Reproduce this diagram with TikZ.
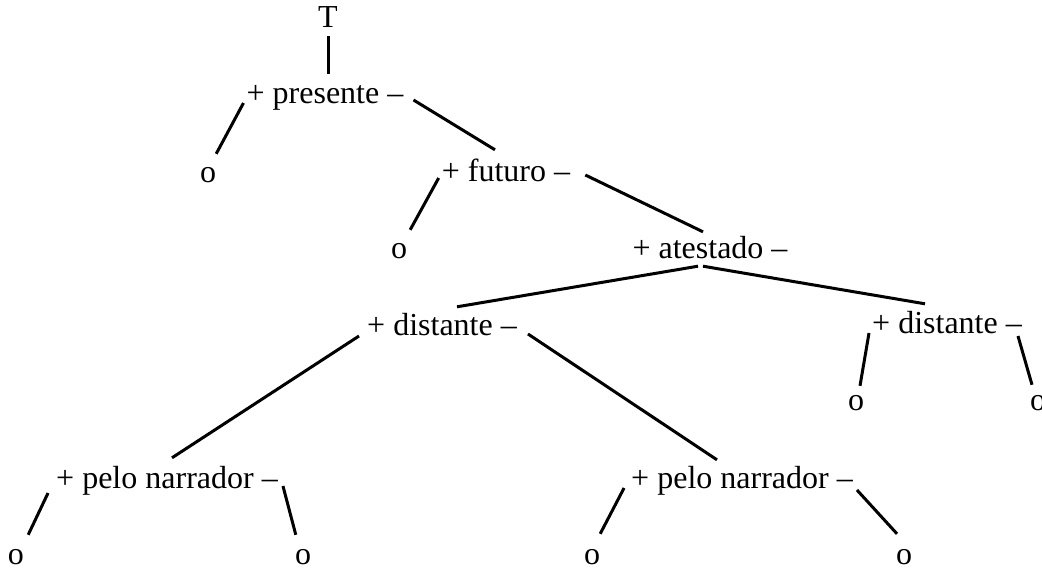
\documentclass[tikz,border=0pt]{standalone}
\usepackage{fontspec}
\setmainfont{Liberation Serif}
\usepackage{tikz}
\tikzset{lbl/.style={inner sep=0pt,anchor=base,text height=21pt,text depth=6pt,font=\fontsize{32}{32}\selectfont}}
\tikzset{edge/.style={line width=3pt}}

\begin{document}
\begin{tikzpicture}[x=1pt,y=-1pt]
      \useasboundingbox (0,0) rectangle (1042,571);
      % nodes, placed at their baselines
      \node[lbl] (T) at (328,27) {T};
      \node[lbl] (pres) at (325,103) {+ presente --};
      \node[lbl] (oPres) at (208,182) {o};
      \node[lbl] (fut) at (506,181) {+ futuro --};
      \node[lbl] (oFut) at (399,258) {o};
      \node[lbl] (atest) at (710,258) {+ atestado --};
      \node[lbl] (distL) at (442,335) {+ distante --};
      \node[lbl] (distR) at (947,333) {+ distante --};
      \node[lbl] (oDistA) at (856,410) {o};
      \node[lbl] (oDistB) at (1038,410) {o};
      \node[lbl] (peloL) at (167,488) {+ pelo narrador --};
      \node[lbl] (peloR) at (742,488) {+ pelo narrador --};
      \node[lbl] (oPeloA) at (16,564) {o};
      \node[lbl] (oPeloB) at (303,564) {o};
      \node[lbl] (oPeloC) at (592,564) {o};
      \node[lbl] (oPeloD) at (904,564) {o};
      % branches
      \draw[edge] ([yshift=-3pt]T.south) -- ([xshift=3pt,yshift=8pt]pres.north);
      \draw[edge] ([xshift=-3pt]pres.base west) -- ([yshift=7pt]oPres.north east);
      \draw[edge] ([xshift=10pt,yshift=3pt]pres.base east) -- ([xshift=-11pt,yshift=10pt]fut.north);
      \draw[edge] ([xshift=-3pt,yshift=3pt]fut.base west) -- ([xshift=3pt,yshift=7pt]oFut.north east);
      \draw[edge] ([xshift=15pt,yshift=6pt]fut.base east) -- ([xshift=-7pt,yshift=5pt]atest.north);
      \draw[edge] ([xshift=-12pt,yshift=-2pt]atest.south) -- ([xshift=15pt,yshift=7pt]distL.north);
      \draw[edge] ([xshift=-7pt,yshift=-2pt]atest.south) -- ([xshift=-22pt,yshift=8pt]distR.north);
      \draw[edge] ([xshift=-8pt,yshift=-1pt]distL.base west) -- ([xshift=5pt,yshift=9pt]peloL.north);
      \draw[edge] ([xshift=11pt,yshift=1pt]distL.base east) -- ([xshift=-25pt,yshift=7pt]peloR.north);
      \draw[edge] ([xshift=-3pt]distR.base west) -- ([xshift=4pt,yshift=3pt]oDistA.north);
      \draw[edge] ([xshift=-4pt,yshift=-3pt]distR.base east) -- ([xshift=-6pt,yshift=4pt]oDistB.north);
      \draw[edge] ([xshift=-8pt,yshift=-5pt]peloL.base west) -- ([xshift=4pt,yshift=8pt]oPeloA.north east);
      \draw[edge] ([xshift=5pt,yshift=2pt]peloL.base east) -- ([xshift=1pt,yshift=8pt]oPeloB.north west);
      \draw[edge] ([xshift=-7pt]peloR.base west) -- ([yshift=9pt]oPeloC.north east);
      \draw[edge] ([xshift=4pt,yshift=-2pt]peloR.base east) -- ([xshift=-7pt,yshift=9pt]oPeloD.north);
    \end{tikzpicture}
\end{document}
